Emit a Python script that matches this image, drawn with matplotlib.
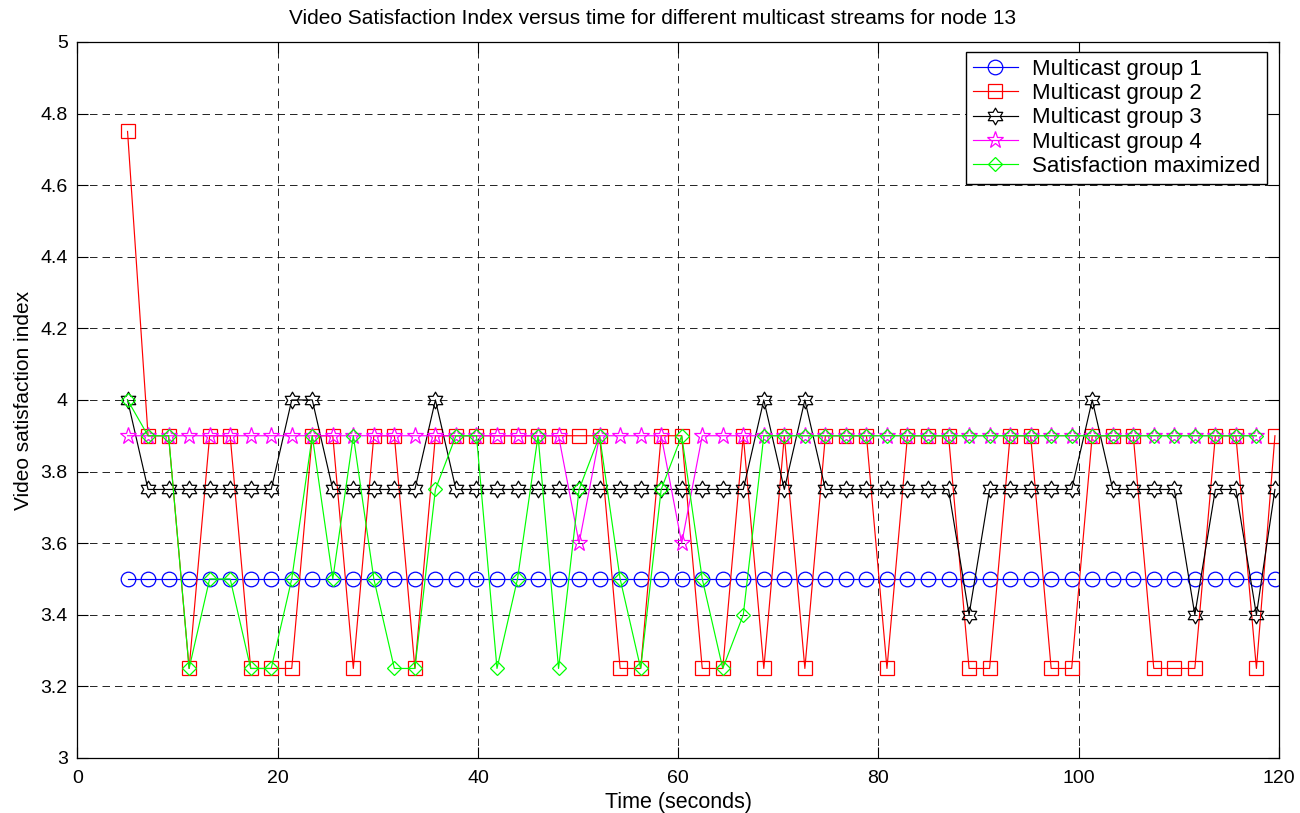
import numpy as np
import matplotlib
matplotlib.use("Agg")
import matplotlib.pyplot as plt
from matplotlib.path import Path

plt.rcParams['font.family'] = ['Liberation Sans', 'DejaVu Sans']

# ---- data ----
time = [5.00, 7.05, 9.10, 11.15, 13.20, 15.25, 17.30, 19.35, 21.40, 23.45,
        25.50, 27.55, 29.60, 31.65, 33.70, 35.75, 37.80, 39.85, 41.90, 43.95,
        46.00, 48.05, 50.10, 52.15, 54.20, 56.25, 58.30, 60.35, 62.40, 64.45,
        66.50, 68.55, 70.60, 72.65, 74.70, 76.75, 78.80, 80.85, 82.90, 84.95,
        87.00, 89.05, 91.10, 93.15, 95.20, 97.25, 99.30, 101.35, 103.40, 105.45,
        107.50, 109.55, 111.60, 113.65, 115.70, 117.75, 119.60]

group1 = [3.5] * 57

group2 = [4.75, 3.9, 3.9, 3.25, 3.9, 3.9, 3.25, 3.25, 3.25, 3.9,
          3.9, 3.25, 3.9, 3.9, 3.25, 3.9, 3.9, 3.9, 3.9, 3.9,
          3.9, 3.9, 3.9, 3.9, 3.25, 3.25, 3.9, 3.9, 3.25, 3.25,
          3.9, 3.25, 3.9, 3.25, 3.9, 3.9, 3.9, 3.25, 3.9, 3.9,
          3.9, 3.25, 3.25, 3.9, 3.9, 3.25, 3.25, 3.9, 3.9, 3.9,
          3.25, 3.25, 3.25, 3.9, 3.9, 3.25, 3.9]

group3 = [4.0, 3.75, 3.75, 3.75, 3.75, 3.75, 3.75, 3.75, 4.0, 4.0,
          3.75, 3.75, 3.75, 3.75, 3.75, 4.0, 3.75, 3.75, 3.75, 3.75,
          3.75, 3.75, 3.75, 3.75, 3.75, 3.75, 3.75, 3.75, 3.75, 3.75,
          3.75, 4.0, 3.75, 4.0, 3.75, 3.75, 3.75, 3.75, 3.75, 3.75,
          3.75, 3.4, 3.75, 3.75, 3.75, 3.75, 3.75, 4.0, 3.75, 3.75,
          3.75, 3.75, 3.4, 3.75, 3.75, 3.4, 3.75]

group4 = [3.9, 3.9, 3.9, 3.9, 3.9, 3.9, 3.9, 3.9, 3.9, 3.9,
          3.9, 3.9, 3.9, 3.9, 3.9, 3.9, 3.9, 3.9, 3.9, 3.9,
          3.9, 3.9, 3.6, 3.9, 3.9, 3.9, 3.9, 3.6, 3.9, 3.9,
          3.9, 3.9, 3.9, 3.9, 3.9, 3.9, 3.9, 3.9, 3.9, 3.9,
          3.9, 3.9, 3.9, 3.9, 3.9, 3.9, 3.9, 3.9, 3.9, 3.9,
          3.9, 3.9, 3.9, 3.9, 3.9, 3.9]

maximized = [4.0, 3.9, 3.9, 3.25, 3.5, 3.5, 3.25, 3.25, 3.5, 3.9,
             3.5, 3.9, 3.5, 3.25, 3.25, 3.75, 3.9, 3.9, 3.25, 3.5,
             3.9, 3.25, 3.75, 3.9, 3.5, 3.25, 3.75, 3.9, 3.5, 3.25,
             3.4, 3.9, 3.9, 3.9, 3.9, 3.9, 3.9, 3.9, 3.9, 3.9,
             3.9, 3.9, 3.9, 3.9, 3.9, 3.9, 3.9, 3.9, 3.9, 3.9,
             3.9, 3.9, 3.9, 3.9, 3.9, 3.9]

labels = ["Multicast group 1", "Multicast group 2", "Multicast group 3",
          "Multicast group 4", "Satisfaction maximized"]
xticks = [0, 20, 40, 60, 80, 100, 120]
yticks = [3, 3.2, 3.4, 3.6, 3.8, 4, 4.2, 4.4, 4.6, 4.8, 5]
ytick_labels = ["3", "3.2", "3.4", "3.6", "3.8", "4", "4.2", "4.4", "4.6", "4.8", "5"]

# ---- hexagram marker (six-pointed star) ----
ang = np.deg2rad(90 + np.arange(12) * 30)
rad = np.where(np.arange(12) % 2 == 0, 1.0, 0.577)
verts = np.column_stack([rad * np.cos(ang), rad * np.sin(ang)])
verts = np.vstack([verts, verts[:1]])
codes = [Path.MOVETO] + [Path.LINETO] * 11 + [Path.CLOSEPOLY]
hexagram = Path(verts, codes)

fig = plt.figure(figsize=(13, 8.13), dpi=100)
ax = fig.add_axes([0.0596, 0.0677, 0.9242, 0.8807])

lw = 0.85
ax.plot(time[:len(group1)], group1, color=(0, 0, 1), marker='o', ms=10.5,
        mfc='none', mew=0.9, lw=lw, label=labels[0])
ax.plot(time[:len(group2)], group2, color=(1, 0, 0), marker='s', ms=10,
        mfc='none', mew=0.9, lw=lw, label=labels[1])
ax.plot(time[:len(group3)], group3, color='black', marker=hexagram, ms=12,
        mfc='none', mew=0.9, lw=lw, label=labels[2])
ax.plot(time[:len(group4)], group4, color=(1, 0, 1), marker='*', ms=12.5,
        mfc='none', mew=0.9, lw=lw, label=labels[3])
ax.plot(time[:len(maximized)], maximized, color=(0, 1, 0), marker='D', ms=7.5,
        mfc='none', mew=0.9, lw=lw, label=labels[4])

ax.set_xlim(0, 120)
ax.set_ylim(3, 5)
ax.set_xticks(xticks)
ax.set_yticks(yticks)
ax.set_yticklabels(ytick_labels)
ax.tick_params(direction='in', length=8, width=0.8, top=True, right=True,
               labelsize=14, pad=7)
ax.tick_params(axis='x', pad=9)
ax.grid(True, color='black', linestyle=(0, (9, 6)), linewidth=0.6)
for s in ax.spines.values():
    s.set_linewidth(0.9)

ax.set_title("Video Satisfaction Index versus time for different multicast streams for node 13",
             fontsize=15, pad=13, x=0.479)
ax.set_xlabel("Time (seconds)", fontsize=15.5, labelpad=3)
ax.set_ylabel("Video satisfaction index", fontsize=15, labelpad=5)

leg = ax.legend(loc='upper right', bbox_to_anchor=(0.99, 0.986), borderaxespad=0,
                fontsize=16, fancybox=False, edgecolor='black', framealpha=1,
                handlelength=2.0, handletextpad=0.65, labelspacing=0.15,
                borderpad=0.3)
leg.get_frame().set_linewidth(1.0)

fig.savefig("out.png", dpi=100)
